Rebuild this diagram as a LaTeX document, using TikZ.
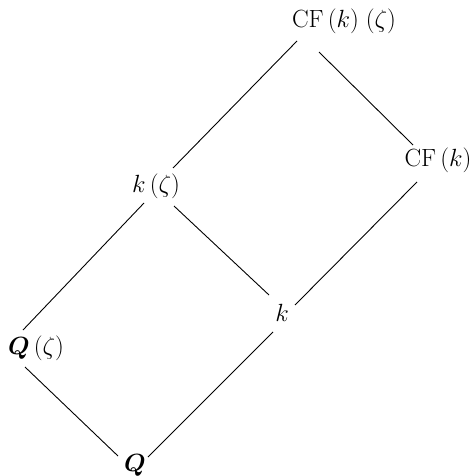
\documentclass[tikz,border=0pt]{standalone}
\usepackage{amsmath}
\usepackage{bm}
\usetikzlibrary{calc}
\begin{document}
\begin{tikzpicture}[x=1pt,y=-1pt,
  lbl/.style={inner sep=0pt,font=\fontsize{24}{28}\selectfont},
  edge/.style={line width=0.9pt}]
\useasboundingbox (0,0) rectangle (474,476);
\node[lbl] (top) at (344,21) {$\mathrm{CF}\,(k)\;(\zeta)$};
\node[lbl] (kz) at (156,186) {$k\,(\zeta)$};
\node[lbl] (cf) at (438,160) {$\mathrm{CF}\,(k)$};
\node[lbl] (k) at (282,313) {$k$};
\node[lbl] (qz) at (36,348) {$\bm{Q}\,(\zeta)$};
\node[lbl] (q) at (135,465) {$\bm{Q}$};
\draw[edge] ($(top)+(-47,20)$) -- ($(kz)+(17,-18)$);
\draw[edge] ($(top)+(-25,31)$) -- ($(cf)+(-25,-15)$);
\draw[edge] ($(kz)+(-12,17)$) -- ($(qz)+(-13,-18)$);
\draw[edge] ($(kz)+(18,20)$) -- ($(k)+(-13,-18)$);
\draw[edge] ($(cf)+(-21,22)$) -- ($(k)+(13,-8)$);
\draw[edge] ($(qz)+(-11,19)$) -- ($(q)+(-17,-9)$);
\draw[edge] ($(k)+(-9,19)$) -- ($(q)+(13,-8)$);
\end{tikzpicture}
\end{document}
